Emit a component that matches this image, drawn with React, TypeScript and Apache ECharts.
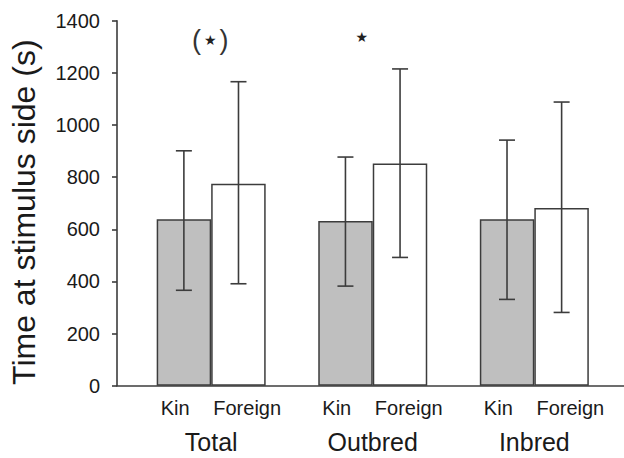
import React, { useEffect, useRef } from "react";
import * as echarts from "echarts";

const categories = ["Total", "Outbred", "Inbred"];
const subLabels = ["Kin", "Foreign"];
const kinMeans = [638, 632, 638];
const foreignMeans = [775, 852, 682];
const kinLow = [366, 382, 331];
const kinHigh = [901, 877, 942];
const foreignLow = [391, 492, 281];
const foreignHigh = [1166, 1215, 1088];
const yMin = 0;
const yMax = 1400;
const yInterval = 200;
const yTitle = "Time at stimulus side (s)";
const annotations = [
  { category: "Total", value: 1325, text: "{p|(}{s|\u2605}{p|)}", dx: -1 },
  { category: "Outbred", value: 1337, text: "{s|\u2605}", dx: -11 },
];

const FONT = "Liberation Sans, Arial, Helvetica, sans-serif";
const DARK = "#3c3c3c";
const TEXT = "#1a1a1a";

export default function App() {
  const ref = useRef<HTMLDivElement>(null);
  useEffect(() => {
    if (!ref.current) return;
    const chart = echarts.init(ref.current, undefined, { renderer: "svg" });
    const barOffsetFrac = 0.169;
    const errSeries = (lows: number[], highs: number[], sign: number, extra: any = {}) => ({
      type: "custom",
      xAxisIndex: 0,
      yAxisIndex: 0,
      z: 5,
      silent: true,
      data: lows.map((l, i) => [i, l, highs[i]]),
      renderItem: (params: any, api: any) => {
        const band = api.size([1, 0])[0];
        const lo = api.coord([api.value(0), api.value(1)]);
        const hi = api.coord([api.value(0), api.value(2)]);
        const x = lo[0] + sign * band * barOffsetFrac;
        const cap = 8;
        const style = { stroke: DARK, lineWidth: 1.6 };
        return {
          type: "group",
          children: [
            { type: "line", shape: { x1: x, y1: lo[1], x2: x, y2: hi[1] }, style },
            { type: "line", shape: { x1: x - cap, y1: lo[1], x2: x + cap, y2: lo[1] }, style },
            { type: "line", shape: { x1: x - cap, y1: hi[1], x2: x + cap, y2: hi[1] }, style },
          ],
        };
      },
      ...extra,
    });
    const markPoint = {
      symbol: "circle",
      symbolSize: 0,
      data: annotations.map((a) => ({
        coord: [a.category, a.value],
        label: {
          show: true,
          position: "inside",
          offset: [a.dx, 0],
          formatter: a.text,
          rich: {
            p: { fontSize: 27, fontFamily: FONT, color: "#333333", padding: [0, 1, 0, 1] },
            s: { fontSize: 14, fontFamily: "DejaVu Sans, sans-serif", color: "#222222", padding: [0, 2, 0, 2] },
          },
        },
      })),
    };
    chart.setOption({
      animation: false,
      backgroundColor: "#ffffff",
      textStyle: { fontFamily: FONT, color: TEXT },
      grid: [
        { left: 130.4, right: 8.9, top: 20.7, bottom: 72.3 },
        { left: 117, right: 0, top: 20.7, bottom: 72.3 },
      ],
      xAxis: [
        {
          type: "category",
          gridIndex: 0,
          data: categories,
          axisLine: { show: false },
          axisTick: { show: false },
          axisLabel: {
            margin: 8,
            formatter: (v: string) => `{k|${subLabels[0]}}{f|${subLabels[1]}}\n{g|${v}}`,
            rich: {
              k: { fontSize: 20, width: 72, align: "center", lineHeight: 28, fontFamily: FONT, color: TEXT },
              f: { fontSize: 20, width: 72, align: "center", lineHeight: 28, fontFamily: FONT, color: TEXT },
              g: { fontSize: 25, lineHeight: 40, fontFamily: FONT, color: TEXT },
            },
          },
        },
        {
          type: "value",
          gridIndex: 1,
          min: 0,
          max: 1,
          axisLine: { show: true, lineStyle: { color: DARK, width: 1.6 } },
          axisTick: { show: false },
          axisLabel: { show: false },
          splitLine: { show: false },
        },
      ],
      yAxis: [
        {
          type: "value",
          gridIndex: 0,
          min: yMin,
          max: yMax,
          interval: yInterval,
          offset: 13.4,
          name: yTitle,
          nameLocation: "middle",
          nameGap: 77,
          nameTextStyle: { fontSize: 32, fontFamily: FONT, color: TEXT, padding: [0, 18, 0, 0] },
          axisLine: { show: true, lineStyle: { color: DARK, width: 1.6 } },
          axisTick: { show: true, length: 5, lineStyle: { color: DARK, width: 1.6 } },
          axisLabel: {
            fontSize: 20,
            margin: 17,
            color: TEXT,
            fontFamily: FONT,
            formatter: (v: number) => String(v),
          },
          splitLine: { show: false },
        },
        {
          type: "value",
          gridIndex: 1,
          show: false,
          min: 0,
          max: 1,
        },
      ],
      series: [
        {
          name: subLabels[0],
          type: "bar",
          xAxisIndex: 0,
          yAxisIndex: 0,
          data: kinMeans,
          barWidth: 54.5,
          barGap: "0%",
          itemStyle: { color: "#bfbfbf", borderColor: DARK, borderWidth: 1.5 },
        },
        {
          name: subLabels[1],
          type: "bar",
          xAxisIndex: 0,
          yAxisIndex: 0,
          data: foreignMeans,
          barWidth: 54.5,
          barGap: "0%",
          itemStyle: { color: "#ffffff", borderColor: DARK, borderWidth: 1.5 },
        },
        errSeries(kinLow, kinHigh, -1, { markPoint }),
        errSeries(foreignLow, foreignHigh, 1),
      ],
    });
    return () => chart.dispose();
  }, []);
  return (
    <div
      ref={ref}
      style={{ position: "fixed", left: 0, top: 0, width: 624, height: 458 }}
    />
  );
}
